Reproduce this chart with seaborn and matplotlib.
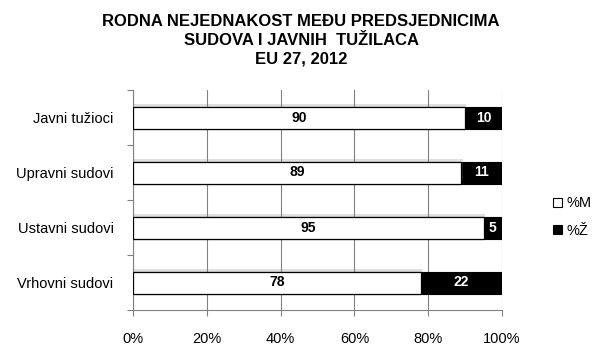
import matplotlib
matplotlib.use("Agg")
import matplotlib.pyplot as plt
import matplotlib.patheffects as pe
from matplotlib.patches import Patch
from matplotlib.ticker import FixedLocator, PercentFormatter
import seaborn as sns
import pandas as pd

categories = ["Javni tužioci", "Upravni sudovi", "Ustavni sudovi", "Vrhovni sudovi"]
pct_m = [90, 89, 95, 78]
pct_z = [10, 11, 5, 22]
legend_labels = ["%M", "%Ž"]
title = "RODNA NEJEDNAKOST MEĐU PREDSJEDNICIMA\nSUDOVA I JAVNIH  TUŽILACA\nEU 27, 2012"

sns.set_theme(style="white")
plt.rcParams["font.family"] = ["Liberation Sans", "DejaVu Sans"]
plt.rcParams["text.color"] = "black"
plt.rcParams["xtick.color"] = "black"
plt.rcParams["ytick.color"] = "black"

df = pd.DataFrame({"cat": categories, "M": pct_m, "Z": pct_z})
df["total"] = df["M"] + df["Z"]

fig = plt.figure(figsize=(6.02, 3.62), dpi=100)
ax = fig.add_axes([133/602, 1 - 310/362, (502-133)/602, (310-90)/362])

sns.barplot(data=df, y="cat", x="total", orient="h", color="black",
            width=0.4, edgecolor="black", linewidth=0.8, ax=ax, zorder=2)
sns.barplot(data=df, y="cat", x="M", orient="h", color="white",
            width=0.4, edgecolor="black", linewidth=0.9, ax=ax, zorder=3)

n = len(categories)
white_bars = ax.patches[n:]
for p in white_bars:
    p.set_facecolor("white")
    p.set_path_effects([pe.SimplePatchShadow(offset=(1.0, 1.8), shadow_rgbFace="gray", alpha=0.25),
                        pe.Normal()])
for p in ax.patches[:n]:
    p.set_facecolor("black")

for i, (m, z) in enumerate(zip(pct_m, pct_z)):
    ax.text(m / 2, i, f"{m}", ha="center", va="center", fontsize=10,
            fontweight="bold", color="black", zorder=5)
    ax.text(m + z / 2, i, f"{z}", ha="center", va="center", fontsize=10,
            fontweight="bold", color="white", zorder=5)

ax.set_xlim(0, 100)
ax.set_ylim(n - 0.5, -0.5)
ax.set_xlabel("")
ax.set_ylabel("")
ax.xaxis.set_major_locator(FixedLocator([0, 20, 40, 60, 80, 100]))
ax.xaxis.set_major_formatter(PercentFormatter(decimals=0))
ax.grid(axis="x", color="#808080", linewidth=0.8, zorder=0)
ax.set_axisbelow(True)

ax.yaxis.set_minor_locator(FixedLocator([-0.5, 0.5, 1.5, 2.5, 3.5]))
ax.tick_params(axis="y", which="major", length=0, labelsize=10.5, pad=14, labelcolor="black")
ax.tick_params(axis="y", which="minor", length=4, width=0.8, color="#808080", left=True)
ax.tick_params(axis="x", which="major", length=4, width=0.8, color="#808080",
               labelsize=10.5, pad=12, bottom=True, labelcolor="black")

for s in ["top", "right"]:
    ax.spines[s].set_visible(False)
for s in ["left", "bottom"]:
    ax.spines[s].set_color("#808080")
    ax.spines[s].set_linewidth(0.8)

fig.text(301/602, 1 - 14/362, title, ha="center", va="top", fontsize=12,
         fontweight="bold", linespacing=1.32, color="black")

handles = [Patch(facecolor="white", edgecolor="black", linewidth=0.8),
           Patch(facecolor="black", edgecolor="black", linewidth=0.8)]
fig.legend(handles, legend_labels, loc="center left", bbox_to_anchor=(540/602, 1 - 217/362),
           frameon=False, fontsize=10.5, handlelength=0.6, handleheight=0.6,
           handletextpad=0.3, labelspacing=0.9, labelcolor="black")

fig.savefig("out.png", dpi=100)
